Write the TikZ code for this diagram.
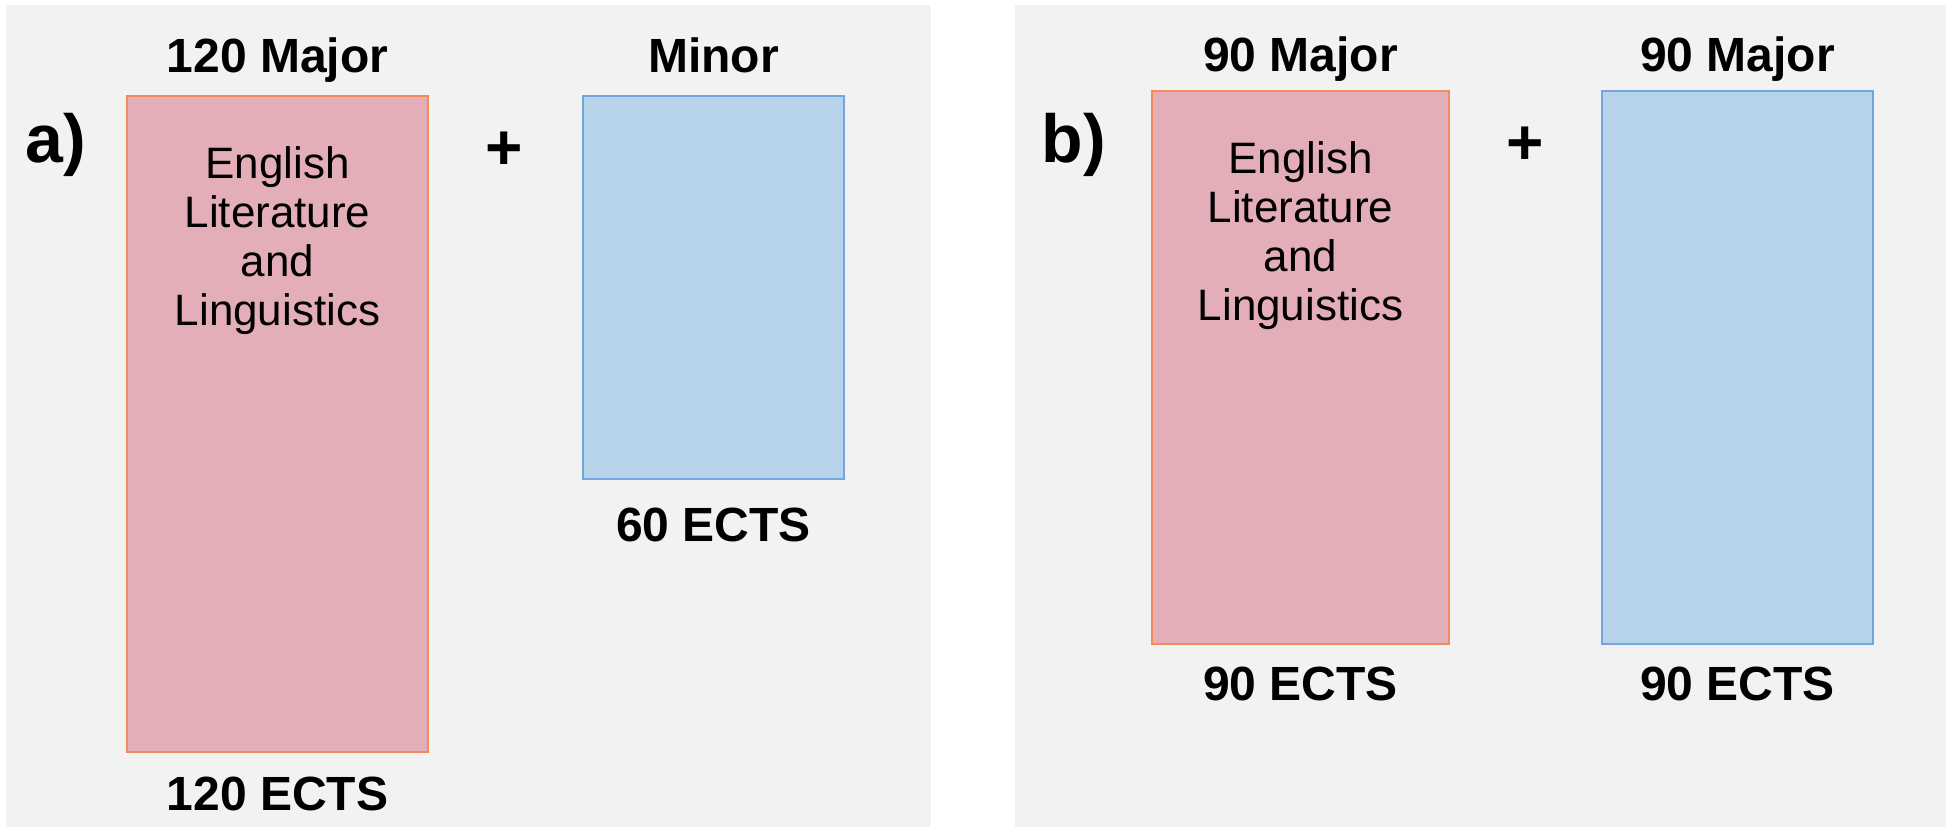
\documentclass[tikz,border=0pt]{standalone}
\usepackage{fontspec}
\setmainfont{Liberation Sans}
\usepackage{xcolor}
\usepackage{tikz}
\usetikzlibrary{positioning}
\definecolor{panelgray}{HTML}{F2F2F2}
\definecolor{majorpink}{HTML}{E4AEB8}
\definecolor{majoredge}{HTML}{F08C58}
\definecolor{minorblue}{HTML}{B6D3EA}
\definecolor{minoredge}{HTML}{72A6DC}
\tikzset{
panel/.style={fill=panelgray, draw=none}, % grey card behind each option
credbox/.style={rectangle, inner sep=0pt, outer sep=0pt, line width=1pt, anchor=north west}, % one block of credits
majorbox/.style={credbox, fill=majorpink, draw=majoredge},
minorbox/.style={credbox, fill=minorblue, draw=minoredge},
head/.style={font=\bfseries\fontsize{24}{28}\selectfont, inner sep=0pt}, % labels above and below the blocks
subject/.style={font=\fontsize{22}{24.5}\selectfont, align=center, inner sep=0pt}, % text inside the major block
tag/.style={font=\bfseries\fontsize{34}{40}\selectfont, inner sep=0pt},
plus/.style={font=\bfseries\fontsize{32}{36}\selectfont, inner sep=0pt},
}

\begin{document}
\begin{tikzpicture}[x=0.5pt, y=-0.5pt]
        \useasboundingbox[fill=white] (0,0) rectangle (1946,827);
        \fill[panel] (6,5) rectangle (931,827);
        \fill[panel] (1015,5) rectangle (1946,827);

        % option a)
        \node[majorbox, minimum width=150.5pt, minimum height=328pt] (maj1) at (127,96) {};
        \node[minorbox, minimum width=130.5pt, minimum height=191.5pt] (min1) at (583,96) {};
        \node[subject, below=25pt of maj1.north] (sub1) {English\\Literature\\and\\Linguistics};
        \node[head, above=12pt of maj1.north, anchor=base] (top1) {120 Major};
        \node[head, above=12pt of min1.north, anchor=base] (top2) {Minor};
        \node[head, below=29pt of maj1.south, anchor=base] (bot1) {120 ECTS};
        \node[head, below=31pt of min1.south, anchor=base] (bot2) {60 ECTS};
        \node[tag] (tagA) at (56,145) {a)};
        \node[plus] (plusA) at (504,151) {+};

        % option b)
        \node[majorbox, minimum width=148.5pt, minimum height=276.5pt] (maj2) at (1152,91) {};
        \node[minorbox, minimum width=135.5pt, minimum height=276.5pt] (min2) at (1602,91) {};
        \node[subject, below=25pt of maj2.north] (sub2) {English\\Literature\\and\\Linguistics};
        \node[head, above=10pt of maj2.north, anchor=base] (top3) {90 Major};
        \node[head, above=10pt of min2.north, anchor=base] (top4) {90 Major};
        \node[head, below=28pt of maj2.south, anchor=base] (bot3) {90 ECTS};
        \node[head, below=28pt of min2.south, anchor=base] (bot4) {90 ECTS};
        \node[tag] (tagB) at (1074,145) {b)};
        \node[plus] (plusB) at (1525,146) {+};
    \end{tikzpicture}
\end{document}
